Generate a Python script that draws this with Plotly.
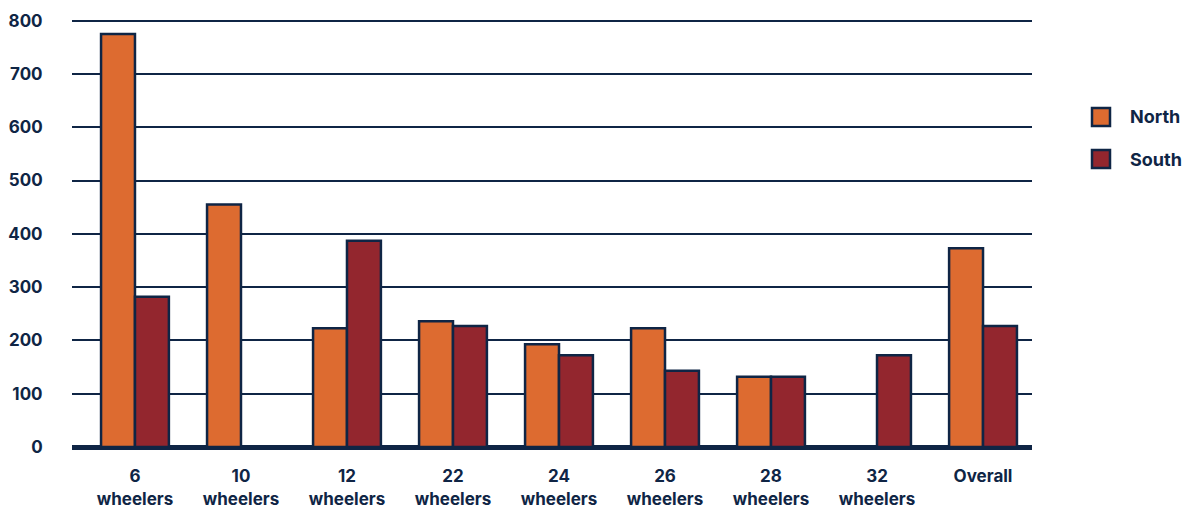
import plotly.graph_objects as go

# Vehicle classes and per-region counts
categories = ["6<br>wheelers", "10<br>wheelers", "12<br>wheelers", "22<br>wheelers",
              "24<br>wheelers", "26<br>wheelers", "28<br>wheelers", "32<br>wheelers", "Overall"]
north = [775, 455, 223, 236, 193, 223, 132, None, 373]
south = [282, None, 387, 227, 172, 143, 132, 172, 227]
series_names = ["North", "South"]
y_ticks = [0, 100, 200, 300, 400, 500, 600, 700, 800]

NAVY = "#0f2545"
ORANGE = "#dd6b30"
MAROON = "#93262e"
FONT = "Inter"

x_idx = list(range(len(categories)))

fig = go.Figure()
for name, vals, col in [(series_names[0], north, ORANGE), (series_names[1], south, MAROON)]:
    fig.add_trace(go.Bar(
        x=x_idx, y=vals, name=name, showlegend=False,
        marker=dict(color=col, line=dict(color=NAVY, width=2.5)),
    ))

TOP, BOTTOM = 18, 65
fig.update_layout(
    width=1195, height=512,
    margin=dict(l=72, r=163, t=TOP, b=BOTTOM),
    paper_bgcolor="white", plot_bgcolor="white",
    barmode="group", bargap=0.36, bargroupgap=0,
    font=dict(family=FONT, size=17, color=NAVY),
    xaxis=dict(
        tickmode="array", tickvals=x_idx, ticktext=categories, automargin=False,
        range=[-0.594, 8.462], showgrid=False, zeroline=False, showline=False,
        ticks="outside", ticklen=14, tickcolor="rgba(0,0,0,0)",
        tickfont=dict(family=FONT, size=17, color=NAVY, weight="bold"),
    ),
    yaxis=dict(
        range=[0, 805], tickmode="array", tickvals=y_ticks, automargin=False,
        showgrid=True, gridcolor=NAVY, gridwidth=2,
        zeroline=True, zerolinecolor=NAVY, zerolinewidth=5,
        showline=False, ticks="outside", ticklen=25, tickcolor="rgba(0,0,0,0)",
        tickfont=dict(family=FONT, size=17, color=NAVY, weight="bold"),
    ),
)

# Legend drawn as swatches with labels (positions in pixels, converted to paper units)
plot_h = 512 - TOP - BOTTOM
base_px = 512 - BOTTOM


def py(px):
    return (base_px - px) / plot_h


legend_items = [(series_names[0], ORANGE, 117), (series_names[1], MAROON, 159)]
for name, col, yc in legend_items:
    fig.add_shape(type="rect", xref="paper", yref="paper",
                  x0=(1092 - 72) / 960, x1=(1110 - 72) / 960,
                  y0=py(yc + 9), y1=py(yc - 9),
                  fillcolor=col, line=dict(color=NAVY, width=2.5))
    fig.add_annotation(xref="paper", yref="paper",
                       x=(1128 - 72) / 960, y=py(yc),
                       text=name, showarrow=False, xanchor="left", yanchor="middle",
                       font=dict(family=FONT, size=18, color=NAVY, weight="bold"))

fig.write_html("out.html")
